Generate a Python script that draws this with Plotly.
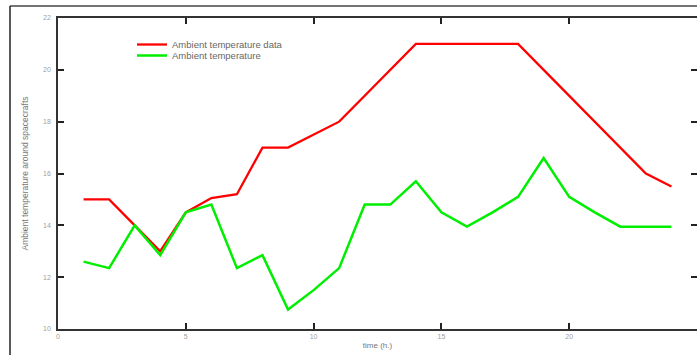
import plotly.graph_objects as go

# Hourly samples
hours = list(range(1, 25))

# Temperature series (deg)
temp_data = [15.0, 15.0, 14.0, 13.0, 14.5, 15.05, 15.2, 17.0, 17.0, 17.5, 18.0, 19.0,
             20.0, 21.0, 21.0, 21.0, 21.0, 21.0, 20.0, 19.0, 18.0, 17.0, 16.0, 15.5]
temp_model = [12.6, 12.35, 14.0, 12.85, 14.5, 14.8, 12.35, 12.85, 10.75, 11.5, 12.35, 14.8,
              14.8, 15.7, 14.5, 13.95, 14.5, 15.1, 16.6, 15.1, 14.5, 13.95, 13.95, 13.95]

x_ticks = [0, 5, 10, 15, 20, 25]
y_ticks = [10, 12, 14, 16, 18, 20, 22]

W, H = 697, 355
ML, MR, MT, MB = 58, 0, 18, 26
pw = W - ML - MR
ph = H - MT - MB

FONT = "Liberation Sans, Arial, sans-serif"

fig = go.Figure()
fig.add_trace(go.Scatter(x=hours, y=temp_data, mode="lines",
                         name="Ambient temperature data", legend="legend",
                         line=dict(color="#ff0000", width=2.3)))
fig.add_trace(go.Scatter(x=hours, y=temp_model, mode="lines",
                         name="Ambient temperature", legend="legend2",
                         line=dict(color="#00ee00", width=2.5)))

tickfont = dict(family=FONT, size=7, color="#a0a0a0")


def legend_box(top_px):
    return dict(x=(132 - ML) / pw, y=(H - MB - top_px) / ph, xanchor="left", yanchor="top",
                bgcolor="rgba(0,0,0,0)", borderwidth=0,
                font=dict(family=FONT, size=9.5, color="#666666"))


fig.update_layout(
    width=W, height=H,
    margin=dict(l=ML, r=MR, t=MT, b=MB),
    paper_bgcolor="white", plot_bgcolor="white",
    showlegend=True,
    legend=legend_box(30),
    legend2=legend_box(41),
    xaxis=dict(range=[0, 25], tickvals=x_ticks, ticktext=[str(v) for v in x_ticks],
               ticks="inside", ticklen=6, tickwidth=1.5, tickcolor="#222222",
               showline=True, linecolor="#333333", linewidth=1.5, mirror="ticks",
               showgrid=False, zeroline=False, tickfont=tickfont,
               title=dict(text="time (h.)", standoff=3,
                          font=dict(family=FONT, size=8, color="#777777"))),
    yaxis=dict(range=[10, 22], tickvals=y_ticks, ticktext=[str(v) for v in y_ticks],
               ticks="inside", ticklen=6, tickwidth=1.5, tickcolor="#222222",
               showline=True, linecolor="#333333", linewidth=1.5,
               showgrid=False, zeroline=False, tickfont=tickfont, ticklabelstandoff=4,
               title=dict(text="Ambient temperature around spacecrafts", standoff=13,
                          font=dict(family=FONT, size=8.5, color="#777777"))),
    yaxis2=dict(range=[10, 22], tickvals=y_ticks, overlaying="y", side="right",
                ticks="inside", ticklen=6, tickwidth=1.5, tickcolor="#222222",
                showline=False, showgrid=False, zeroline=False, showticklabels=False),
)

# empty trace that activates the right-side tick axis
fig.add_trace(go.Scatter(x=[None], y=[None], yaxis="y2", showlegend=False, hoverinfo="skip"))

# outer figure frame
fx0 = (10 - ML) / pw
fy0 = (H - MB - 6) / ph
fig.add_shape(type="line", xref="paper", yref="paper", x0=fx0, y0=fy0, x1=1.2, y1=fy0,
              line=dict(color="#444444", width=1.5))
fig.add_shape(type="line", xref="paper", yref="paper", x0=fx0, y0=fy0, x1=fx0, y1=-0.2,
              line=dict(color="#222222", width=1.5))

fig.write_html("out.html")
